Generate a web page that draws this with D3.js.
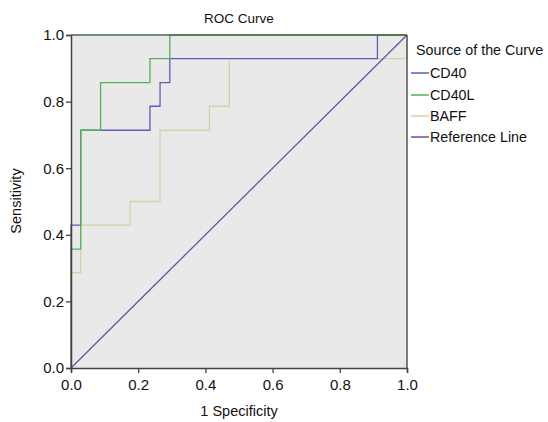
<!DOCTYPE html>
<html><head><meta charset="utf-8">
<script src="https://cdn.jsdelivr.net/npm/d3@7"></script>
<style>body{margin:0;background:#fff}svg{display:block}text{font-family:"Liberation Sans",Arial,sans-serif;fill:#111}</style>
</head><body><svg id="c" width="548" height="422"></svg>
<script>
const seriesNames = ["CD40", "CD40L", "BAFF", "Reference Line"];
const seriesColors = ["#5d5dbb", "#55b255", "#d6d2a6", "#6a4fa6"];
// ROC step points [1-specificity, sensitivity]
const cd40 = [[0,0],[0,0.429],[0.029,0.429],[0.029,0.714],[0.235,0.714],[0.235,0.786],[0.265,0.786],[0.265,0.857],[0.294,0.857],[0.294,0.929],[0.912,0.929],[0.912,1],[1,1]];
const cd40l = [[0,0],[0,0.357],[0.029,0.357],[0.029,0.714],[0.088,0.714],[0.088,0.857],[0.235,0.857],[0.235,0.929],[0.294,0.929],[0.294,1],[1,1]];
const baff = [[0,0],[0,0.286],[0.029,0.286],[0.029,0.429],[0.176,0.429],[0.176,0.5],[0.265,0.5],[0.265,0.714],[0.412,0.714],[0.412,0.786],[0.471,0.786],[0.471,0.929],[1,0.929],[1,1]];
const refLine = [[0,0],[1,1]];
const xTicks = [0,0.2,0.4,0.6,0.8,1.0];
const yTicks = [0,0.2,0.4,0.6,0.8,1.0];

const svg = d3.select("#c");
const L=71,R=407,T=35,B=368;
const x = d3.scaleLinear().domain([0,1]).range([L,R]);
const y = d3.scaleLinear().domain([0,1]).range([B,T]);

svg.append("rect").attr("x",L).attr("y",T).attr("width",R-L).attr("height",B-T).attr("fill","#e9e9e9");

const line = d3.line().x(d=>x(d[0])).y(d=>y(d[1]));
const data = [cd40, cd40l, baff, refLine];
[2,0,1,3].forEach(i=>{
  svg.append("path").attr("d",line(data[i])).attr("fill","none")
    .attr("stroke",seriesColors[i]).attr("stroke-width",1.3);
});

svg.append("line").attr("x1",L).attr("x2",R).attr("y1",T).attr("y2",T).attr("stroke","#4a6a4a").attr("stroke-width",1.5);
svg.append("line").attr("x1",R).attr("x2",R).attr("y1",T).attr("y2",B).attr("stroke","#5a5050").attr("stroke-width",1.5);

const fmt = d=>d.toFixed(1);
const xa = svg.append("g").attr("transform",`translate(0,${B})`).call(d3.axisBottom(x).tickValues(xTicks).tickFormat(fmt).tickSize(5).tickPadding(6));
const ya = svg.append("g").attr("transform",`translate(${L},0)`).call(d3.axisLeft(y).tickValues(yTicks).tickFormat(fmt).tickSize(5).tickPadding(2));
[xa,ya].forEach(a=>{
  a.select(".domain").attr("stroke","#4a4040").attr("stroke-width",1.5);
  a.selectAll(".tick line").attr("stroke","#4a4040").attr("stroke-width",1.3);
  a.selectAll("text").style("font-family","Liberation Sans, Arial, sans-serif").style("font-size","15px").attr("fill","#111");
});

svg.append("text").attr("x",239).attr("y",23).attr("text-anchor","middle").style("font-size","13.5px").text("ROC Curve");
svg.append("text").attr("x",239).attr("y",416).attr("text-anchor","middle").style("font-size","14.5px").text("1 Specificity");
svg.append("text").attr("transform","translate(21,201) rotate(-90)").attr("text-anchor","middle").style("font-size","14.5px").text("Sensitivity");

svg.append("text").attr("x",416).attr("y",55).style("font-size","14.3px").text("Source of the Curve");
const ly = [73,95,116,137];
seriesNames.forEach((n,i)=>{
  svg.append("line").attr("x1",411).attr("x2",429).attr("y1",ly[i]).attr("y2",ly[i]).attr("stroke",seriesColors[i]).attr("stroke-width",1.5);
  svg.append("text").attr("x",430).attr("y",ly[i]+5).style("font-size","14.3px").text(n);
});
</script></body></html>
